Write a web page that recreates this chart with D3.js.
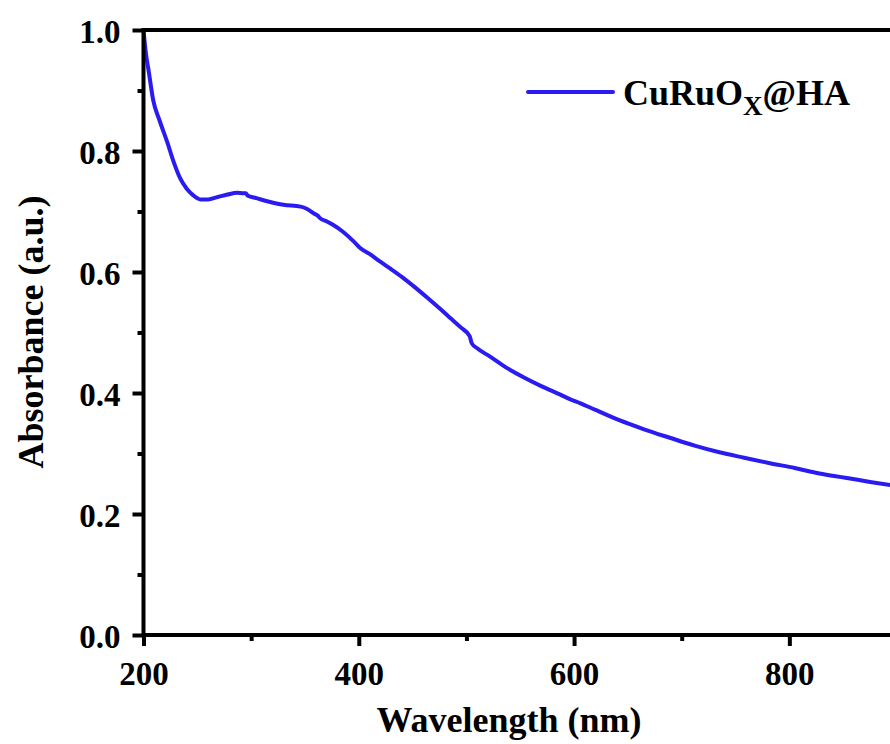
<!DOCTYPE html>
<html>
<head>
<meta charset="utf-8">
<script src="https://cdn.jsdelivr.net/npm/d3@7"></script>
<style>
  html, body { margin: 0; padding: 0; background: #fff; }
  svg { display: block; }
</style>
</head>
<body>
<svg id="chart" width="890" height="744"></svg>
<script>
// ---- data ----
const wavelength = [200,202,205,209,215,222,228,234,240,246,253,260,269,278,287,293,295,297,305,315,330,346,352,358,362,364,370,376,385,395,401,410,420,429,440,452,464,475,485,495,503,505,510,522,537,553,570,585,596,606,620,642,665,689,712,735,758,782,805,828,852,875,900];
const absorbance = [1.000,0.965,0.930,0.884,0.850,0.815,0.782,0.755,0.738,0.727,0.720,0.720,0.724,0.728,0.731,0.730,0.730,0.726,0.722,0.717,0.711,0.708,0.704,0.697,0.693,0.689,0.684,0.678,0.667,0.651,0.640,0.630,0.617,0.606,0.592,0.575,0.557,0.540,0.524,0.508,0.494,0.482,0.474,0.460,0.442,0.426,0.411,0.399,0.390,0.383,0.372,0.355,0.340,0.326,0.313,0.302,0.293,0.284,0.276,0.267,0.260,0.253,0.246];
const seriesName = "CuRuO";
const xMajorTicks = [200, 400, 600, 800];
const xMinorTicks = [300, 500, 700];
const yMajorTicks = [0.0, 0.2, 0.4, 0.6, 0.8, 1.0];
const yMinorTicks = [0.1, 0.3, 0.5, 0.7, 0.9];
const xTitle = "Wavelength (nm)";
const yTitle = "Absorbance (a.u.)";

const FONT = "'Liberation Serif', Tinos, 'Times New Roman', Times, 'DejaVu Serif', serif";
const svg = d3.select("#chart");
const pLeft = 143.5, pRight = 897, pTop = 30, pBottom = 635;
const x = d3.scaleLinear().domain([200, 900]).range([pLeft, pRight]);
const y = d3.scaleLinear().domain([0, 1]).range([pBottom, pTop]);
const color = "#2a1cf0";
const tickFont = 33;

// curve
const data = wavelength.map((w, i) => ({w, a: absorbance[i]}));
svg.append("path")
  .datum(data)
  .attr("fill", "none")
  .attr("stroke", color)
  .attr("stroke-width", 4)
  .attr("stroke-linejoin", "round")
  .attr("d", d3.line().x(d => x(d.w)).y(d => y(d.a)).curve(d3.curveMonotoneX));

// frame
svg.append("rect")
  .attr("x", pLeft).attr("y", pTop)
  .attr("width", pRight - pLeft).attr("height", pBottom - pTop)
  .attr("fill", "none").attr("stroke", "#000").attr("stroke-width", 4);

// x axis
const gx = svg.append("g").attr("transform", `translate(0,${pBottom})`);
gx.call(d3.axisBottom(x).tickValues(xMajorTicks).tickFormat(d3.format("d")).tickSize(11).tickPadding(8));
gx.append("g").call(d3.axisBottom(x).tickValues(xMinorTicks).tickFormat("").tickSize(6));
gx.selectAll(".domain").remove();
gx.selectAll("line").attr("stroke", "#000").attr("stroke-width", 4);
gx.selectAll(".tick text").attr("y", 50).attr("dy", 0);

// y axis
const gy = svg.append("g").attr("transform", `translate(${pLeft},0)`);
gy.call(d3.axisLeft(y).tickValues(yMajorTicks).tickFormat(d3.format(".1f")).tickSize(11).tickPadding(10));
gy.append("g").call(d3.axisLeft(y).tickValues(yMinorTicks).tickFormat("").tickSize(6));
gy.selectAll(".domain").remove();
gy.selectAll("line").attr("stroke", "#000").attr("stroke-width", 4);
gy.selectAll(".tick text").attr("x", -23).attr("dy", 12);

[gx, gy].forEach(g => g.attr("font-family", null).attr("font-size", null));
svg.selectAll(".tick text")
  .style("font-family", FONT).style("font-weight", "bold")
  .style("font-size", tickFont + "px").attr("fill", "#000");

// titles
svg.append("text")
  .attr("x", 509).attr("y", 732)
  .attr("text-anchor", "middle")
  .style("font-family", FONT).style("font-weight", "bold").style("font-size", "36px")
  .text(xTitle);
svg.append("text")
  .attr("transform", "translate(43,332) rotate(-90)")
  .attr("text-anchor", "middle")
  .style("font-family", FONT).style("font-weight", "bold").style("font-size", "36px")
  .text(yTitle);

// legend
svg.append("line")
  .attr("x1", 528).attr("x2", 613).attr("y1", 92).attr("y2", 92)
  .attr("stroke", color).attr("stroke-width", 4).attr("stroke-linecap", "round");
const lt = svg.append("text").attr("x", 623).attr("y", 105)
  .style("font-family", FONT).style("font-weight", "bold").style("font-size", "36px");
lt.append("tspan").text(seriesName);
lt.append("tspan").style("font-size", "27px").attr("dy", 10).text("X");
lt.append("tspan").attr("dy", -10).text("@HA");
</script>
</body>
</html>
